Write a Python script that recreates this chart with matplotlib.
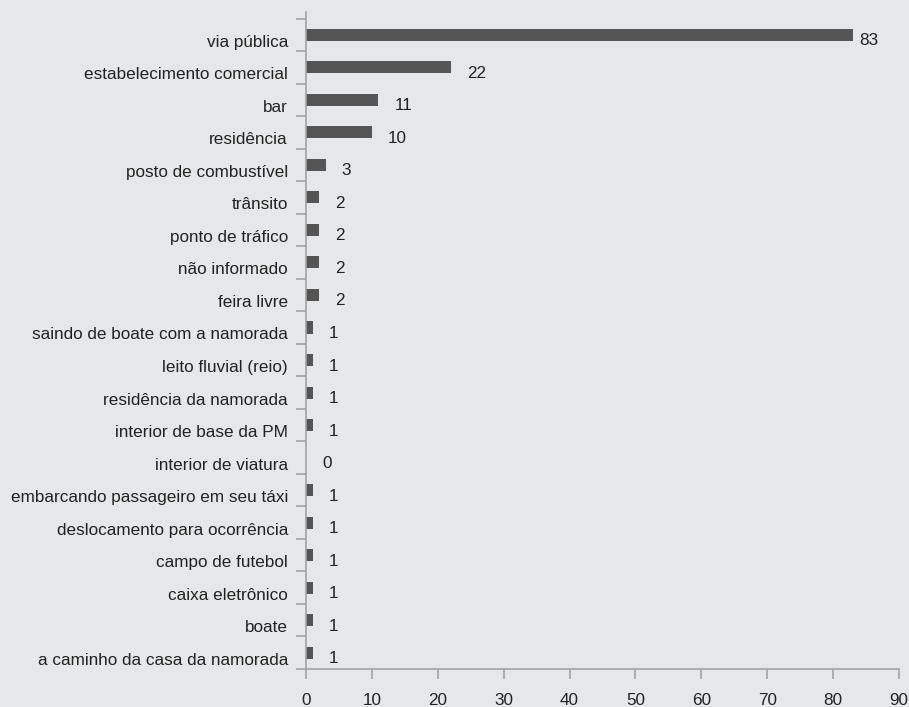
import matplotlib
matplotlib.use('Agg')
import matplotlib.pyplot as plt
from matplotlib.transforms import ScaledTranslation
import numpy as np

# locais de ocorrência e número de casos
locais = [
    'via pública',
    'estabelecimento comercial',
    'bar',
    'residência',
    'posto de combustível',
    'trânsito',
    'ponto de tráfico',
    'não informado',
    'feira livre',
    'saindo de boate com a namorada',
    'leito fluvial (reio)',
    'residência da namorada',
    'interior de base da PM',
    'interior de viatura',
    'embarcando passageiro em seu táxi',
    'deslocamento para ocorrência',
    'campo de futebol',
    'caixa eletrônico',
    'boate',
    'a caminho da casa da namorada',
]
casos = [83, 22, 11, 10, 3, 2, 2, 2, 2, 1, 1, 1, 1, 0, 1, 1, 1, 1, 1, 1]
ticks_x = [0, 10, 20, 30, 40, 50, 60, 70, 80, 90]

fundo = '#e6e7e8'
cinza = '#a3a3a3'
texto = '#222222'
plt.rcParams['font.family'] = ['Liberation Sans', 'DejaVu Sans']

fig = plt.figure(figsize=(9.09, 7.07), dpi=100, facecolor=fundo)
ax = fig.add_axes([306 / 909, 1 - 669 / 707, 593 / 909, 657 / 707])
ax.set_facecolor(fundo)

n = len(locais)
pos = np.arange(n)
ax.barh(pos, casos, height=0.37, color='#555555')

# rótulos de valor ao lado das barras (um pouco abaixo do centro)
for p, v in zip(pos, casos):
    desloc = 6 if v > 80 else 16
    ax.annotate(str(v), xy=(v, p), xytext=(desloc, -6), textcoords='offset pixels',
                ha='left', va='center', fontsize=12.3, color=texto)

ax.set_xlim(0, 90)
ax.set_ylim(n - 0.5, -0.5 - 0.2)
ax.set_xticks(ticks_x)
ax.set_yticks(pos)
ax.set_yticklabels(locais)
ax.set_yticks(np.arange(n + 1) - 0.5, minor=True)

for lado in ['top', 'right']:
    ax.spines[lado].set_visible(False)
for lado in ['left', 'bottom']:
    ax.spines[lado].set_color(cinza)
    ax.spines[lado].set_linewidth(1.2)

ax.tick_params(axis='y', which='major', length=0, pad=13, labelsize=12.3, labelcolor=texto)
ax.tick_params(axis='y', which='minor', length=7, width=1.2, color=cinza)
ax.tick_params(axis='x', length=7, width=1.2, color=cinza, pad=10, labelsize=12.3, labelcolor=texto)

desce = ScaledTranslation(0, -6 / 100, fig.dpi_scale_trans)
for rot in ax.get_yticklabels():
    rot.set_transform(rot.get_transform() + desce)

fig.savefig('out.png', dpi=100, facecolor=fundo)
